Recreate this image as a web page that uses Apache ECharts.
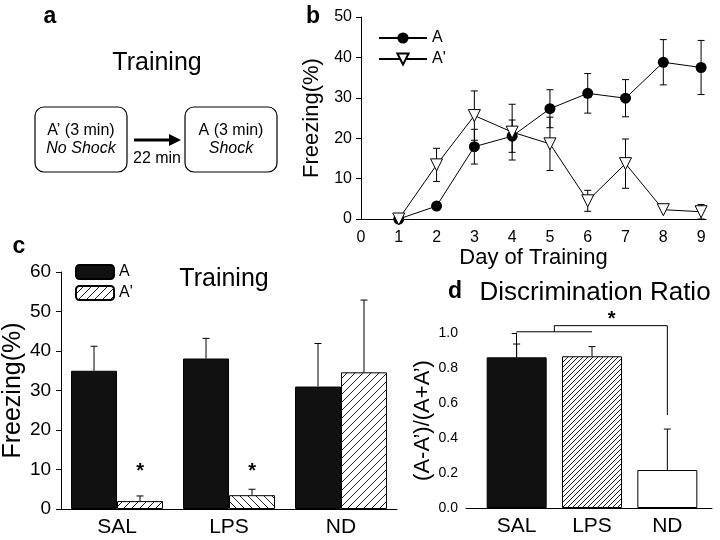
<!DOCTYPE html>
<html>
<head>
<meta charset="utf-8">
<script src="https://cdn.jsdelivr.net/npm/echarts/dist/echarts.min.js"></script>
<style>html,body{margin:0;padding:0;background:#fff}#chart{width:720px;height:540px}</style>
</head>
<body>
<div id="chart"></div>
<script>
// ---------- data ----------
const days = [1, 2, 3, 4, 5, 6, 7, 8, 9];
const freezeA = [0, 3.2, 17.9, 20.5, 27.3, 31.1, 29.9, 38.8, 37.5];
const freezeAErr = [0, 0, 4.3, 4.0, 4.7, 4.9, 4.6, 5.6, 6.7];
const freezeAp = [0, 13.4, 25.6, 21.5, 18.6, 4.5, 13.7, 2.3, 1.8];
const freezeApErr = [0, 4.1, 6.1, 6.9, 6.6, 2.6, 6.1, 0, 1.8];

const groups = ['SAL', 'LPS', 'ND'];
const trainA = [35.0, 38.1, 31.0];
const trainAErr = [6.2, 5.1, 10.9];
const trainAp = [2.0, 3.5, 34.6];
const trainApErr = [1.3, 1.5, 18.3];
const starLevelC = [10.4, 10.4, null];

const ratio = [0.861, 0.867, 0.217];
const ratioErr = [0.076, 0.055, 0.234];
const bracketLow = [[0, 1.007], [1, 1.007]];
const bracketHigh = [[0.5, 1.007], [0.5, 1.042], [2, 1.042], [2, 0.531]];
const starD = [[1.26, 1.10]];

const ticksB_Y = [0, 50, 10];
const ticksC_Y = [0, 60, 10];
const ticksD_Y = [0, 1, 0.2];

// ---------- styles ----------
const FONT = 'Liberation Sans, Arial, sans-serif';
const BAR_W_C = 46, BAR_W_D = 60, CAP = 3.5;

function hatch(size, dir) {
  const c = document.createElement('canvas');
  c.width = size; c.height = size;
  const g = c.getContext('2d');
  g.fillStyle = '#fff'; g.fillRect(0, 0, size, size);
  g.strokeStyle = '#222'; g.lineWidth = 1;
  g.beginPath();
  if (dir > 0) {
    g.moveTo(0, size); g.lineTo(size, 0);
    g.moveTo(-1, 1); g.lineTo(1, -1);
    g.moveTo(size - 1, size + 1); g.lineTo(size + 1, size - 1);
  } else {
    g.moveTo(0, 0); g.lineTo(size, size);
    g.moveTo(-1, size - 1); g.lineTo(1, size + 1);
    g.moveTo(size - 1, -1); g.lineTo(size + 1, 1);
  }
  g.stroke();
  return { image: c, repeat: 'repeat' };
}
const hatchC = hatch(8, 1), hatchCBack = hatch(8, -1), hatchD = hatch(5, 1);

function errRender(offset, both) {
  return function (params, api) {
    const x = api.value(0), y = api.value(1), e = api.value(2);
    if (!(e > 0)) return null;
    const p0 = api.coord([x, y]);
    const pt = api.coord([x, y + e]);
    const pb = api.coord([x, Math.max(0, y - e)]);
    const cx = p0[0] + offset;
    const st = { stroke: '#000', lineWidth: 1 };
    const ch = [
      { type: 'line', shape: { x1: cx, y1: both ? pb[1] : p0[1], x2: cx, y2: pt[1] }, style: st },
      { type: 'line', shape: { x1: cx - CAP, y1: pt[1], x2: cx + CAP, y2: pt[1] }, style: st }
    ];
    if (both) ch.push({ type: 'line', shape: { x1: cx - CAP, y1: pb[1], x2: cx + CAP, y2: pb[1] }, style: st });
    return { type: 'group', children: ch };
  };
}
function starRender(offset, size) {
  return function (params, api) {
    const p = api.coord([api.value(0), api.value(1)]);
    return { type: 'text', x: p[0] + offset, y: p[1] + 4,
      style: { text: '*', font: 'bold ' + size + 'px ' + FONT, fill: '#000', align: 'center', verticalAlign: 'middle' } };
  };
}

const axisTxt = { color: '#000', fontFamily: FONT };
function yAxisCommon(grid, t, size, margin, name, nameSize, nameGap, fmt) {
  return {
    type: 'value', gridIndex: grid, min: t[0], max: t[1], interval: t[2],
    axisLine: { show: true, lineStyle: { color: '#000', width: 1 } },
    axisTick: { show: true, inside: false, length: 5, lineStyle: { color: '#000' } },
    splitLine: { show: false },
    axisLabel: Object.assign({ fontSize: size, margin: margin, formatter: fmt }, axisTxt),
    name: name, nameLocation: 'middle', nameGap: nameGap,
    nameTextStyle: Object.assign({ fontSize: nameSize }, axisTxt)
  };
}

const option = {
  animation: false,
  backgroundColor: '#fff',
  textStyle: { fontFamily: FONT, color: '#000' },
  grid: [
    { left: 361, top: 17, width: 345, height: 202 },
    { left: 58, top: 272, width: 339, height: 237 },
    { left: 479, top: 333, width: 226, height: 175 },
    { left: 466, top: 333, width: 246, height: 175 }
  ],
  xAxis: [
    { type: 'value', gridIndex: 0, min: 0, max: 9.13, interval: 1,
      axisLine: { lineStyle: { color: '#000' } }, axisTick: { show: false }, splitLine: { show: false },
      axisLabel: Object.assign({ fontSize: 16, margin: 11,
        formatter: v => (Math.abs(v - Math.round(v)) < 1e-6 ? String(Math.round(v)) : '') }, axisTxt),
      name: 'Day of Training', nameLocation: 'middle', nameGap: 25,
      nameTextStyle: Object.assign({ fontSize: 22 }, axisTxt) },
    { type: 'category', gridIndex: 1, data: groups,
      axisLine: { lineStyle: { color: '#000' } }, axisTick: { show: false },
      axisLabel: Object.assign({ fontSize: 21, margin: 8 }, axisTxt) },
    { type: 'category', gridIndex: 2, data: groups,
      axisLine: { show: false }, axisTick: { show: false },
      axisLabel: Object.assign({ fontSize: 21, margin: 8 }, axisTxt) },
    { type: 'value', gridIndex: 3, min: 0, max: 1, show: true,
      axisLine: { show: true, lineStyle: { color: '#000' } }, axisTick: { show: false },
      axisLabel: { show: false }, splitLine: { show: false } },
    { type: 'value', gridIndex: 2, min: -0.5, max: 2.5, show: false }
  ],
  yAxis: [
    yAxisCommon(0, ticksB_Y, 16, 9, 'Freezing(%)', 22, 38),
    yAxisCommon(1, ticksC_Y, 19, 10, 'Freezing(%)', 25, 33),
    Object.assign(yAxisCommon(2, ticksD_Y, 14, 8, '(A-A’)/(A+A’)', 22, 32, v => v.toFixed(1)), { offset: 13 }),
    { type: 'value', gridIndex: 3, min: 0, max: 1, show: false }
  ],
  legend: [
    { orient: 'vertical', left: 373, top: 25, itemWidth: 48, itemHeight: 14, itemGap: 5,
      data: ['b:A', "b:A'"], formatter: n => n.split(':')[1],
      textStyle: { fontSize: 16, color: '#000', fontFamily: FONT }, selectedMode: false },
    { orient: 'vertical', left: 70, top: 259, itemWidth: 38, itemHeight: 14, itemGap: 5,
      data: ['c:A', "c:A'"], formatter: n => n.split(':')[1],
      textStyle: { fontSize: 16, color: '#000', fontFamily: FONT }, selectedMode: false }
  ],
  series: [
    // ---- panel b ----
    { type: 'custom', xAxisIndex: 0, yAxisIndex: 0, renderItem: errRender(0, true), silent: true,
      data: days.map((d, i) => [d, freezeA[i], freezeAErr[i]]), z: 1 },
    { type: 'custom', xAxisIndex: 0, yAxisIndex: 0, renderItem: errRender(0, true), silent: true,
      data: days.map((d, i) => [d, freezeAp[i], freezeApErr[i]]), z: 1 },
    { name: 'b:A', type: 'line', xAxisIndex: 0, yAxisIndex: 0,
      data: days.map((d, i) => [d, freezeA[i]]),
      symbol: 'circle', symbolSize: 11, showAllSymbol: true,
      itemStyle: { color: '#000' }, lineStyle: { color: '#000', width: 1 }, z: 3 },
    { name: "b:A'", type: 'line', xAxisIndex: 0, yAxisIndex: 0,
      data: days.map((d, i) => [d, freezeAp[i]]),
      symbol: 'triangle', symbolRotate: 180, symbolSize: 12, showAllSymbol: true,
      itemStyle: { color: '#fff', borderColor: '#000', borderWidth: 1 },
      lineStyle: { color: '#000', width: 1 }, z: 4 },
    // ---- panel c ----
    { name: 'c:A', type: 'bar', xAxisIndex: 1, yAxisIndex: 1, barWidth: BAR_W_C, barGap: '0%',
      data: trainA, itemStyle: { color: '#111', borderColor: '#000', borderWidth: 1 } },
    { name: "c:A'", type: 'bar', xAxisIndex: 1, yAxisIndex: 1, barWidth: BAR_W_C, barGap: '0%',
      data: trainAp.map((v, i) => i === 1 ? { value: v, itemStyle: { color: hatchCBack } } : v),
      itemStyle: { color: hatchC, borderColor: '#000', borderWidth: 1 } },
    { type: 'custom', xAxisIndex: 1, yAxisIndex: 1, renderItem: errRender(-BAR_W_C / 2, false), silent: true,
      data: groups.map((g, i) => [g, trainA[i], trainAErr[i]]) },
    { type: 'custom', xAxisIndex: 1, yAxisIndex: 1, renderItem: errRender(BAR_W_C / 2, false), silent: true,
      data: groups.map((g, i) => [g, trainAp[i], trainApErr[i]]) },
    { type: 'custom', xAxisIndex: 1, yAxisIndex: 1, renderItem: starRender(BAR_W_C / 2, 20), silent: true,
      data: groups.map((g, i) => [g, starLevelC[i]]).filter(d => d[1] != null) },
    // ---- panel d ----
    { type: 'bar', xAxisIndex: 2, yAxisIndex: 2, barWidth: BAR_W_D,
      data: ratio.map((v, i) => ({ value: v, itemStyle: [
        { color: '#111', borderColor: '#000', borderWidth: 1 },
        { color: hatchD, borderColor: '#000', borderWidth: 1 },
        { color: '#fff', borderColor: '#000', borderWidth: 1 }][i] })) },
    { type: 'custom', xAxisIndex: 2, yAxisIndex: 2, renderItem: errRender(0, false), silent: true, clip: false,
      data: groups.map((g, i) => [g, ratio[i], ratioErr[i]]) },
    { type: 'line', xAxisIndex: 4, yAxisIndex: 2, data: bracketLow, symbol: 'none', silent: true, clip: false,
      lineStyle: { color: '#000', width: 1 } },
    { type: 'line', xAxisIndex: 4, yAxisIndex: 2, data: bracketHigh, symbol: 'none', silent: true, clip: false,
      lineStyle: { color: '#000', width: 1 } },
    { type: 'custom', xAxisIndex: 4, yAxisIndex: 2, renderItem: starRender(0, 20), silent: true, clip: false,
      data: starD }
  ],
  graphic: [
    // panel letters and titles
    { type: 'text', x: 50, y: 17, style: { text: 'a', font: 'bold 23px ' + FONT, fill: '#000', align: 'center', verticalAlign: 'middle' } },
    { type: 'text', x: 313, y: 17, style: { text: 'b', font: 'bold 23px ' + FONT, fill: '#000', align: 'center', verticalAlign: 'middle' } },
    { type: 'text', x: 19, y: 247, style: { text: 'c', font: 'bold 23px ' + FONT, fill: '#000', align: 'center', verticalAlign: 'middle' } },
    { type: 'text', x: 455, y: 292, style: { text: 'd', font: 'bold 23px ' + FONT, fill: '#000', align: 'center', verticalAlign: 'middle' } },
    { type: 'text', x: 157, y: 63, style: { text: 'Training', font: '25px ' + FONT, fill: '#000', align: 'center', verticalAlign: 'middle' } },
    { type: 'text', x: 224, y: 279, style: { text: 'Training', font: '25px ' + FONT, fill: '#000', align: 'center', verticalAlign: 'middle' } },
    { type: 'text', x: 595, y: 293, style: { text: 'Discrimination Ratio', font: '26px ' + FONT, fill: '#000', align: 'center', verticalAlign: 'middle' } },
    // panel a diagram
    { type: 'rect', shape: { x: 35, y: 107, width: 92, height: 65, r: 9 }, style: { fill: '#fff', stroke: '#000', lineWidth: 1.2 } },
    { type: 'rect', shape: { x: 185, y: 107, width: 92, height: 65, r: 9 }, style: { fill: '#fff', stroke: '#000', lineWidth: 1.2 } },
    { type: 'text', x: 81, y: 131, style: { text: 'A’ (3 min)', font: '16px ' + FONT, fill: '#000', align: 'center', verticalAlign: 'middle' } },
    { type: 'text', x: 81, y: 149, style: { text: 'No Shock', font: 'italic 16px ' + FONT, fill: '#000', align: 'center', verticalAlign: 'middle' } },
    { type: 'text', x: 231, y: 131, style: { text: 'A (3 min)', font: '16px ' + FONT, fill: '#000', align: 'center', verticalAlign: 'middle' } },
    { type: 'text', x: 231, y: 149, style: { text: 'Shock', font: 'italic 16px ' + FONT, fill: '#000', align: 'center', verticalAlign: 'middle' } },
    { type: 'line', shape: { x1: 134, y1: 140, x2: 172, y2: 140 }, style: { stroke: '#000', lineWidth: 3 } },
    { type: 'polygon', shape: { points: [[169, 134], [181, 140], [169, 146]] }, style: { fill: '#000' } },
    { type: 'text', x: 157, y: 159, style: { text: '22 min', font: '16px ' + FONT, fill: '#000', align: 'center', verticalAlign: 'middle' } }
  ]
};

const chart = echarts.init(document.getElementById('chart'), null, { renderer: 'canvas' });
chart.setOption(option);
</script>
</body>
</html>
